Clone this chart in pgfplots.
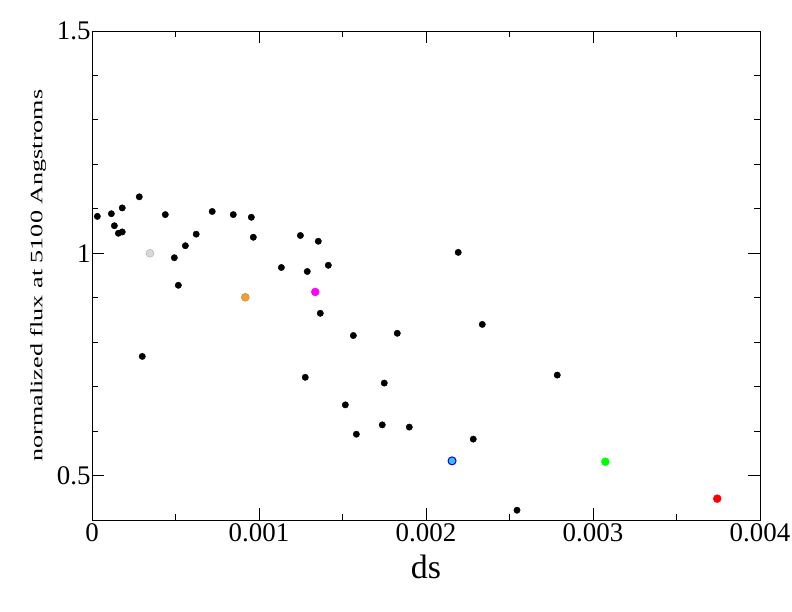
\documentclass[border=0pt]{standalone}
\usepackage{pgfplots}
\pgfplotsset{compat=1.18}
\usepackage{graphicx}
\usepackage{fontspec}
\setmainfont{Liberation Serif}
\definecolor{ltgrey}{RGB}{215,215,215}
\definecolor{orng}{RGB}{240,160,50}
\definecolor{skyb}{RGB}{60,190,230}
\definecolor{mgnt}{RGB}{255,0,255}

\pgfplotstableread{
x        y
0.000032 1.083
0.000116 1.089
0.000134 1.062
0.000158 1.045
0.000181 1.048
0.000181 1.102
0.000283 1.127
0.000301 0.768
0.000439 1.087
0.000493 0.990
0.000517 0.928
0.000559 1.017
0.000624 1.043
0.000720 1.094
0.000846 1.087
0.000954 1.081
0.000966 1.036
0.001134 0.968
0.001248 1.040
0.001277 0.721
0.001289 0.959
0.001355 1.027
0.001367 0.865
0.001415 0.973
0.001517 0.659
0.001565 0.815
0.001583 0.593
0.001738 0.614
0.001750 0.708
0.001828 0.820
0.001900 0.609
0.002193 1.002
0.002283 0.582
0.002337 0.840
0.002545 0.422
0.002786 0.726
}\blackpts

\begin{document}
\begin{tikzpicture}
\useasboundingbox (-92bp,-92bp) rectangle (700bp,520bp);
\begin{axis}[
    at={(0,0)}, anchor=south west,
    scale only axis, width=668bp, height=489bp,
    xmin=0, xmax=0.004, ymin=0.4, ymax=1.5,
    xtick={0,0.001,0.002,0.003,0.004},
    minor xtick={0.0005,0.0015,0.0025,0.0035},
    ytick={0.5,1,1.5},
    minor ytick={0.6,0.7,0.8,0.9,1.1,1.2,1.3,1.4},
    tick align=inside,
    major tick length=12bp, minor tick length=6bp,
    tick style={black, line width=0.9bp},
    axis line style={line width=0.9bp},
    scaled x ticks=false,
    /pgf/number format/assume math mode=true,
    xticklabel style={font=\fontsize{27}{27}\selectfont,
        /pgf/number format/fixed, /pgf/number format/precision=3},
    yticklabel style={font=\fontsize{27}{27}\selectfont,
        /pgf/number format/fixed, /pgf/number format/precision=1},
    yticklabel shift=-2bp,
    xlabel={ds},
    xlabel style={font=\fontsize{34}{34}\selectfont, yshift=-6bp},
    ylabel={\scalebox{1.5}[1]{normalized flux at 5100 Angstroms}},
    ylabel style={font=\fontsize{17.5}{17.5}\selectfont, yshift=4bp},
    clip=false,
]
\addplot[only marks, mark=*, mark size=3.2bp, black] table {\blackpts};
\addplot[only marks, mark=*, mark size=4bp, draw=ltgrey!80!black, fill=ltgrey] coordinates {(0.000347,1.000)};
\addplot[only marks, mark=*, mark size=4bp, draw=orng!80!black, fill=orng] coordinates {(0.000918,0.901)};
\addplot[only marks, mark=*, mark size=4bp, draw=mgnt, fill=mgnt] coordinates {(0.001337,0.913)};
\addplot[only marks, mark=*, mark size=4bp, draw=blue, fill=skyb, line width=1bp] coordinates {(0.002156,0.533)};
\addplot[only marks, mark=*, mark size=4bp, draw=green, fill=green] coordinates {(0.003074,0.531)};
\addplot[only marks, mark=*, mark size=4bp, draw=red, fill=red] coordinates {(0.003744,0.448)};
\end{axis}
\end{tikzpicture}
\end{document}
